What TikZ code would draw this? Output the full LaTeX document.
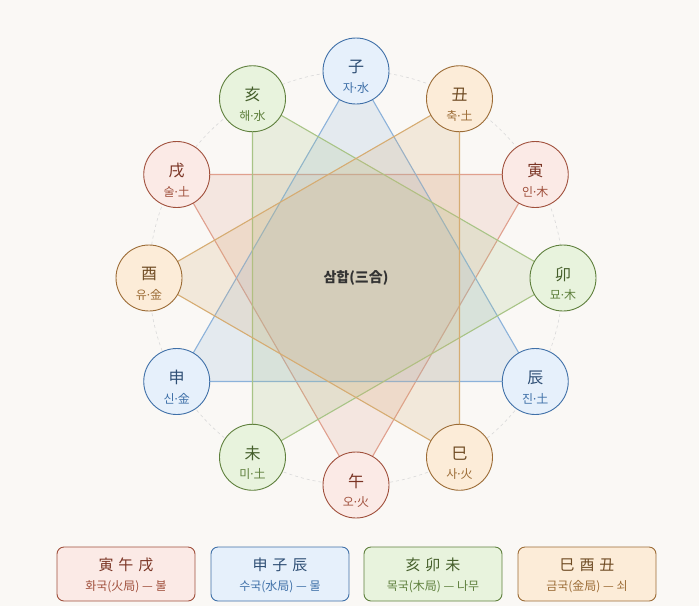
\documentclass[tikz,border=0pt]{standalone}
\usepackage{fontspec}
\setmainfont{Noto Sans CJK KR}
\newfontfamily\latinf{Noto Sans}
\newcommand{\md}{{\latinf ·}}
\usetikzlibrary{calc}
\definecolor{bg}{HTML}{FAF8F5}
\definecolor{fireS}{HTML}{A0503C}\definecolor{fireF}{HTML}{FBEAE6}\definecolor{fireL}{HTML}{E0A08E}\definecolor{fireT}{HTML}{7A3424}
\definecolor{waterS}{HTML}{3F70A8}\definecolor{waterF}{HTML}{E6F0FB}\definecolor{waterL}{HTML}{8CB2DA}\definecolor{waterT}{HTML}{2E4E74}
\definecolor{woodS}{HTML}{5F803D}\definecolor{woodF}{HTML}{E8F3DD}\definecolor{woodL}{HTML}{A8C486}\definecolor{woodT}{HTML}{445E2A}
\definecolor{metalS}{HTML}{9C6C36}\definecolor{metalF}{HTML}{FCECD8}\definecolor{metalL}{HTML}{D6AC72}\definecolor{metalT}{HTML}{6E4A22}
\tikzset{
  br/.style={circle,minimum size=66pt,inner sep=0pt,line width=0.9pt},
  fire/.style={br,draw=fireS,fill=fireF},
  water/.style={br,draw=waterS,fill=waterF},
  wood/.style={br,draw=woodS,fill=woodF},
  metal/.style={br,draw=metalS,fill=metalF},
  chr/.style={inner sep=0pt,font=\fontsize{16}{18}\selectfont},
  sub/.style={inner sep=0pt,font=\fontsize{12}{14}\selectfont},
  tri/.style={line width=1.1pt,fill opacity=0.2},
  legend/.style={rounded corners=7pt,minimum width=138pt,minimum height=54pt,line width=0.9pt,inner sep=0pt},
  ltitle/.style={inner sep=0pt,font=\fontsize{15}{17}\selectfont},
  lsub/.style={inner sep=0pt,font=\fontsize{12}{14}\selectfont},
}
\begin{document}
\begin{tikzpicture}[x=1pt,y=-1pt]
\fill[bg] (0,0) rectangle (699,606);
\useasboundingbox (0,0) rectangle (699,606);
\coordinate (O) at (356,278);
\draw[gray!30,dashed,line width=0.6pt] (O) circle (207);
% positions
\foreach \n/\a in {zi/0,chou/30,yin/60,mao/90,chen/120,si/150,wu/180,wei/210,shen/240,you/270,xu/300,hai/330}{
  \coordinate (p\n) at ($(O)+({207*sin(\a)},{-207*cos(\a)})$);
}
% triangles
\filldraw[tri,draw=fireL,fill=fireL] (pyin) -- (pwu) -- (pxu) -- cycle;
\filldraw[tri,draw=waterL,fill=waterL] (pshen) -- (pzi) -- (pchen) -- cycle;
\filldraw[tri,draw=woodL,fill=woodL] (phai) -- (pmao) -- (pwei) -- cycle;
\filldraw[tri,draw=metalL,fill=metalL] (psi) -- (pyou) -- (pchou) -- cycle;
% branch nodes
\foreach \n/\el/\c/\s in {zi/water/子/자\md 水, chou/metal/丑/축\md 土, yin/fire/寅/인\md 木, mao/wood/卯/묘\md 木,
  chen/water/辰/진\md 土, si/metal/巳/사\md 火, wu/fire/午/오\md 火, wei/wood/未/미\md 土,
  shen/water/申/신\md 金, you/metal/酉/유\md 金, xu/fire/戌/술\md 土, hai/wood/亥/해\md 水}{
  \node[\el] (\n) at (p\n) {};
  \node[chr,text=\el T] (\n-c) at ($(p\n)+(0,-4)$) {\c};
  \node[sub,text=\el S] (\n-s) at ($(p\n)+(0,17)$) {\s};
}
\node[text=black!80,font=\fontsize{14}{16}\selectfont\bfseries] (center) at (O) {삼합(三合)};
% legend
\foreach \n/\x/\t/\s in {fire/126/寅\,\,午\,\,戌/화국(火局) — 불, water/280/申\,\,子\,\,辰/수국(水局) — 물,
  wood/433/亥\,\,卯\,\,未/목국(木局) — 나무, metal/587/巳\,\,酉\,\,丑/금국(金局) — 쇠}{
  \node[legend,draw=\n S,fill=\n F] (l\n) at (\x,574) {};
  \node[ltitle,text=\n T] (l\n-t) at (\x,565) {\t};
  \node[lsub,text=\n S] (l\n-s) at (\x,587) {\s};
}
\end{tikzpicture}
\end{document}
